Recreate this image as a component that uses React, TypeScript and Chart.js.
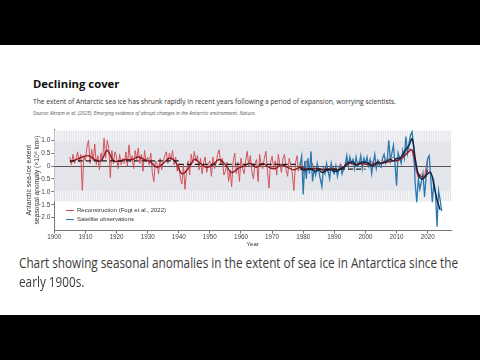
import React, { useEffect, useRef } from "react";
import { Chart, registerables } from "chart.js";
Chart.register(...registerables);

// Reconstruction (Fogt et al., 2022), half-yearly 1905.0–1978.5
const redEarlyStart = 1905;
const redEarly = [
  0.35, 0.05, 0.45, 0.1, 0.3, 0.55, 0.15, 0.45, -0.95, 0.4,
  0.2, 0.75, 1.0, 0.1, 0.65, 0.2, 0.85, 0.05, 0.4, -0.15,
  0.5, 0.2, 1.08, 0.3, 1.0, 0.7, -0.45, 0.6, 0.1, 0.55,
  0.35, -0.1, 0.45, 0.05, 0.3, 0.1, 0.55, 0.0, 0.82, 0.15,
  0.4, -0.1, 0.6, 0.25, 0.7, 0.1, 0.45, -0.2, 0.6, 0.15,
  0.35, 0.05, 0.5, -0.25, -0.6, 0.2, 0.1, -0.3, 0.3, -0.15,
  0.15, 0.4, 0.55, 0.1, 0.5, 0.25, 0.6, 0.05, 0.35, -0.2,
  0.1, -0.45, -0.7, 0.05, -0.9, -0.2, 0.2, -0.35, 0.45, 0.1,
  0.57, 0.2, 0.4, -0.15, 0.3, -0.3, 0.15, 0.35, -0.25, 0.1,
  0.2, -0.4, 0.35, -0.1, 0.1, 0.45, 0.63, 0.05, 0.3, -0.35,
  -0.2, 0.15, -0.6, -0.15, -0.8, 0.2, 0.5, -0.3, 0.15, -0.6,
  0.3, -0.1, -0.3, 0.2, 0.57, 0.0, 0.4, -0.2, -0.5, 0.1,
  0.25, -0.6, 0.45, 0.05, -0.1, 0.3, 0.57, -0.2, -0.85, 0.15,
  0.38, -0.1, 0.2, -0.35, 0.45, 0.05, -0.25, 0.3, 0.45, -0.15,
  -0.4, 0.3, 0.05, -0.3, -0.95, 0.1, 0.4, -0.2,
];
// Reconstruction, yearly 1979–2020
const redLateStart = 1979;
const redLate = [
  0.1, -0.3, 0.2, -0.2, 0.1, -0.3, -0.1, -0.2, 0.0, -0.25,
  0.05, -0.1, -0.2, 0.1, -0.15, 0.2, 0.1, 0.25, 0.0, 0.2,
  0.1, 0.15, 0.0, 0.2, -0.05, 0.25, 0.1, 0.2, 0.3, 0.25,
  0.35, 0.15, 0.3, 0.4, 0.55, 0.7, 0.6, -0.1, -0.45, -0.3,
  -0.4, 0.3,
];
// Satellite observations, half-yearly 1979.0–2024.5
const blueStart = 1979;
const blueObs = [
  0.05, 0.38, -1.1, 0.2, -0.5, 0.3, -0.3, 0.57, -0.6, -0.1,
  -0.35, 0.1, -0.2, -0.5, -0.8, -0.1, -0.3, 0.1, -0.2, -0.5,
  0.1, -0.2, -0.3, 0.0, -0.4, -0.1, 0.0, -0.3, -0.1, 0.05,
  0.4, 0.0, 0.35, 0.1, 0.25, -0.1, 0.35, 0.0, 0.1, 0.4,
  -0.1, 0.3, 0.1, 0.35, 0.0, 0.25, -0.3, 0.1, 0.45, -0.1,
  0.2, 0.0, -0.05, 0.3, 0.45, 0.1, 0.2, 1.0, 0.2, 0.5,
  0.8, 0.1, -0.75, 0.5, 0.3, 0.1, 0.6, 0.3, 1.14, 0.5,
  0.9, 1.2, 1.33, 0.7, -0.7, -1.4, -0.5, -0.9, -0.6, -0.3,
  -1.2, -0.4, 0.3, 0.4, -0.5, -1.4, -0.6, -1.0, -2.35, -0.95,
  -1.3, -1.75,
];
// Smoothed reconstruction
const redSmoothYears = [
  1905, 1907, 1909, 1911, 1913, 1915, 1917, 1919, 1921, 1923,
  1925, 1927, 1929, 1931, 1933, 1935, 1937, 1939, 1941, 1943,
  1945, 1947, 1949, 1951, 1953, 1955, 1957, 1959, 1961, 1963,
  1965, 1967, 1969, 1971, 1973, 1975, 1977, 1979, 1981, 1983,
  1985, 1987, 1989, 1991, 1993, 1995, 1997, 1999, 2001, 2003,
  2005, 2007, 2009, 2011, 2013, 2015, 2017, 2019, 2020,
];
const redSmoothVals = [
  0.15, 0.25, 0.35, 0.4, 0.25, 0.2, 0.6, 0.2, 0.2, 0.25,
  0.25, 0.35, 0.25, 0.15, -0.05, 0.1, 0.3, 0.15, -0.3, -0.1,
  0.25, 0.1, -0.05, 0.05, 0.25, 0.05, -0.25, -0.1, 0.0, 0.1,
  -0.05, 0.1, -0.05, -0.1, 0.05, -0.05, -0.15, -0.05, -0.1, -0.1,
  -0.1, -0.15, -0.1, -0.15, -0.05, 0.1, 0.05, 0.1, 0.05, 0.1,
  0.1, 0.15, 0.2, 0.25, 0.45, 0.62, -0.3, -0.42, -0.15,
];
// Smoothed satellite observations, yearly 1979–2024
const blueSmoothStart = 1979;
const blueSmoothVals = [
  -0.05, -0.15, -0.15, -0.1, -0.15, -0.2, -0.15, -0.25, -0.2, -0.15,
  -0.15, -0.2, -0.2, -0.1, -0.05, 0.1, 0.15, 0.15, 0.05, 0.1,
  0.15, 0.15, 0.1, 0.0, 0.05, 0.15, 0.1, 0.15, 0.2, 0.25,
  0.2, 0.3, 0.3, 0.45, 0.65, 0.8, 1.05, 0.3, -0.35, -0.5,
  -0.45, -0.3, -0.25, -0.75, -1.3, -1.7,
];
// Period means (dashed)
const meanFrom = [1905, 1940, 1979];
const meanTo = [1940, 1978, 2000];
const meanVals = [0.2, 0.06, -0.12];

const bandOuter = 1.37;
const bandInner = 0.95;
const xTicks = [1900, 1910, 1920, 1930, 1940, 1950, 1960, 1970, 1980, 1990, 2000, 2010, 2020];
const yTicks = [1, 0.5, 0, -0.5, -1, -1.5, -2];
const yTickLabels = ["1.0", "0.5", "0", "−0.5", "−1.0", "−1.5", "−2.0"];

const captionLines = [
  "Chart showing seasonal anomalies in the extent of sea ice in Antarctica since the",
  "early 1900s.",
];

const FONT = "'Liberation Sans', Arial, sans-serif";

const bandPlugin = {
  id: "band",
  beforeDatasetsDraw(chart: any) {
    const { ctx, chartArea, scales } = chart;
    const { left, right } = chartArea;
    const y = scales.y;
    const yTop = y.getPixelForValue(bandOuter);
    const yInTop = y.getPixelForValue(bandInner);
    const yInBot = y.getPixelForValue(-bandInner);
    const yBot = y.getPixelForValue(-bandOuter);
    ctx.save();
    ctx.fillStyle = "#e4e5ea";
    ctx.fillRect(left, yTop, right - left, yBot - yTop);
    ctx.strokeStyle = "#fafafb";
    ctx.lineWidth = 1;
    ctx.beginPath();
    for (let px = left + 1.5; px < right; px += 2.4) {
      ctx.moveTo(px, yTop);
      ctx.lineTo(px, yInTop);
      ctx.moveTo(px, yInBot);
      ctx.lineTo(px, yBot);
    }
    ctx.stroke();
    const y0 = Math.round(y.getPixelForValue(0)) + 0.5;
    ctx.strokeStyle = "#555";
    ctx.beginPath();
    ctx.moveTo(left, y0);
    ctx.lineTo(right, y0);
    ctx.stroke();
    ctx.restore();
  },
};

export default function App() {
  const ref = useRef<HTMLCanvasElement>(null);
  const capRef = useRef<HTMLSpanElement>(null);
  const cap2Ref = useRef<HTMLSpanElement>(null);
  useEffect(() => {
    document.body.style.margin = "0";
    if (capRef.current && cap2Ref.current) {
      const w = capRef.current.offsetWidth;
      const s = w > 0 ? 439 / w : 1;
      capRef.current.style.transform = `scaleX(${s})`;
      cap2Ref.current.style.transform = `scaleX(${s})`;
    }
    const redData = [
      ...redEarly.map((v, i) => ({ x: redEarlyStart + i * 0.5, y: v })),
      ...redLate.map((v, i) => ({ x: redLateStart + i, y: v })),
    ];
    const blueData = blueObs.map((v, i) => ({ x: blueStart + i * 0.5, y: v }));
    const redSmooth = redSmoothYears.map((yr, i) => ({ x: yr, y: redSmoothVals[i] }));
    const blueSmooth = blueSmoothVals.map((v, i) => ({ x: blueSmoothStart + i, y: v }));
    const dashed: any[] = [];
    meanVals.forEach((v, i) => {
      dashed.push({ x: meanFrom[i], y: v }, { x: meanTo[i], y: v }, { x: meanTo[i], y: null });
    });
    const chart = new Chart(ref.current!, {
      type: "line",
      data: {
        datasets: [
          { data: redData, borderColor: "#d4535b", borderWidth: 1, pointRadius: 0, tension: 0, order: 5 },
          { data: blueData, borderColor: "#2b78b0", borderWidth: 1.3, pointRadius: 0, tension: 0, order: 4 },
          { data: redSmooth, borderColor: "#8e1b22", borderWidth: 1.4, pointRadius: 0, tension: 0.4, order: 3 },
          { data: blueSmooth, borderColor: "#0d2440", borderWidth: 1.4, pointRadius: 0, tension: 0.4, order: 2 },
          { data: dashed, borderColor: "#1a1a1a", borderWidth: 1.2, borderDash: [5, 3], pointRadius: 0, spanGaps: false, order: 1 },
        ],
      },
      options: {
        animation: false,
        responsive: false,
        maintainAspectRatio: false,
        layout: { padding: { left: 0, right: 29, top: 3, bottom: 0 } },
        plugins: { legend: { display: false }, tooltip: { enabled: false } },
        scales: {
          x: {
            type: "linear",
            min: 1900,
            max: 2027.5,
            afterBuildTicks: (s: any) => { s.ticks = xTicks.map((v) => ({ value: v })); },
            afterFit: (s: any) => { s.height = 19.5; },
            ticks: { autoSkip: false, maxRotation: 0, padding: 0, font: { size: 6.3, family: FONT }, color: "#444", callback: (v: any) => String(v) },
            grid: { display: true, drawOnChartArea: false, drawTicks: true, tickLength: 3, color: "#777" },
            border: { display: true, color: "#777" },
            title: { display: true, text: "Year", font: { size: 6, family: FONT }, color: "#333", padding: { top: 0, bottom: 2 } },
          },
          y: {
            type: "linear",
            min: -2.5,
            max: 1.4,
            afterBuildTicks: (s: any) => { s.ticks = yTicks.map((v) => ({ value: v })); },
            afterFit: (s: any) => { s.width = 54.3; },
            ticks: { autoSkip: false, padding: 1, font: { size: 6.5, family: FONT }, color: "#444", callback: (v: any) => yTickLabels[yTicks.indexOf(v)] ?? "" },
            grid: { display: true, drawOnChartArea: false, drawTicks: true, tickLength: 3, color: "#777" },
            border: { display: true, color: "#777" },
            title: {
              display: true,
              text: ["Antarctic sea-ice extent", "seasonal anomaly (×10⁶ km²)"],
              font: { size: 6.8, family: FONT, lineHeight: 1.2 },
              color: "#333",
              padding: { top: 25, bottom: 0 },
            },
          },
        },
      },
      plugins: [bandPlugin],
    });
    return () => chart.destroy();
  }, []);

  const abs: React.CSSProperties = { position: "absolute", whiteSpace: "nowrap" };
  const capStyle: React.CSSProperties = { display: "inline-block", transformOrigin: "0 50%" };
  return (
    <div style={{ position: "fixed", left: 0, top: 0, width: 480, height: 360, background: "#fff", overflow: "hidden", fontFamily: "'Open Sans', sans-serif" }}>
      <div style={{ ...abs, left: 0, top: 0, width: 480, height: 45, background: "#000" }} />
      <div style={{ ...abs, left: 0, top: 315, width: 480, height: 45, background: "#000" }} />
      <div style={{ ...abs, left: 33, top: 76.5, fontSize: 11.3, lineHeight: "14px", fontWeight: 700, color: "#111" }}>Declining cover</div>
      <div style={{ ...abs, left: 33, top: 97, fontSize: 6.7, lineHeight: "9px", color: "#333" }}>
        The extent of Antarctic sea ice has shrunk rapidly in recent years following a period of expansion, worrying scientists.
      </div>
      <div style={{ ...abs, left: 33, top: 109.5, fontSize: 4.9, lineHeight: "6px", fontStyle: "italic", color: "#555" }}>
        Source: Abram et al. (2025). Emerging evidence of abrupt changes in the Antarctic environment. Nature.
      </div>
      <canvas ref={ref} width={480} height={125} style={{ position: "absolute", left: 0, top: 125, width: 480, height: 125 }} />
      <div style={{ ...abs, left: 66, top: 207, fontFamily: FONT, fontSize: 6, lineHeight: "7px", color: "#333" }}>
        <div style={{ display: "flex", alignItems: "center" }}>
          <span style={{ display: "inline-block", width: 8, height: 1.3, background: "#d4535b", marginRight: 3 }} />
          Reconstruction (Fogt et al., 2022)
        </div>
        <div style={{ display: "flex", alignItems: "center", marginTop: 2 }}>
          <span style={{ display: "inline-block", width: 8, height: 1.3, background: "#2b78b0", marginRight: 3 }} />
          Satellite observations
        </div>
      </div>
      <div style={{ ...abs, left: 19, top: 252.5, fontFamily: "'Open Sans', sans-serif", fontSize: 14, lineHeight: "19px", color: "#3a3a3a" }}>
        <span ref={capRef} style={capStyle}>{captionLines[0]}</span>
        <br />
        <span ref={cap2Ref} style={capStyle}>{captionLines[1]}</span>
      </div>
    </div>
  );
}
